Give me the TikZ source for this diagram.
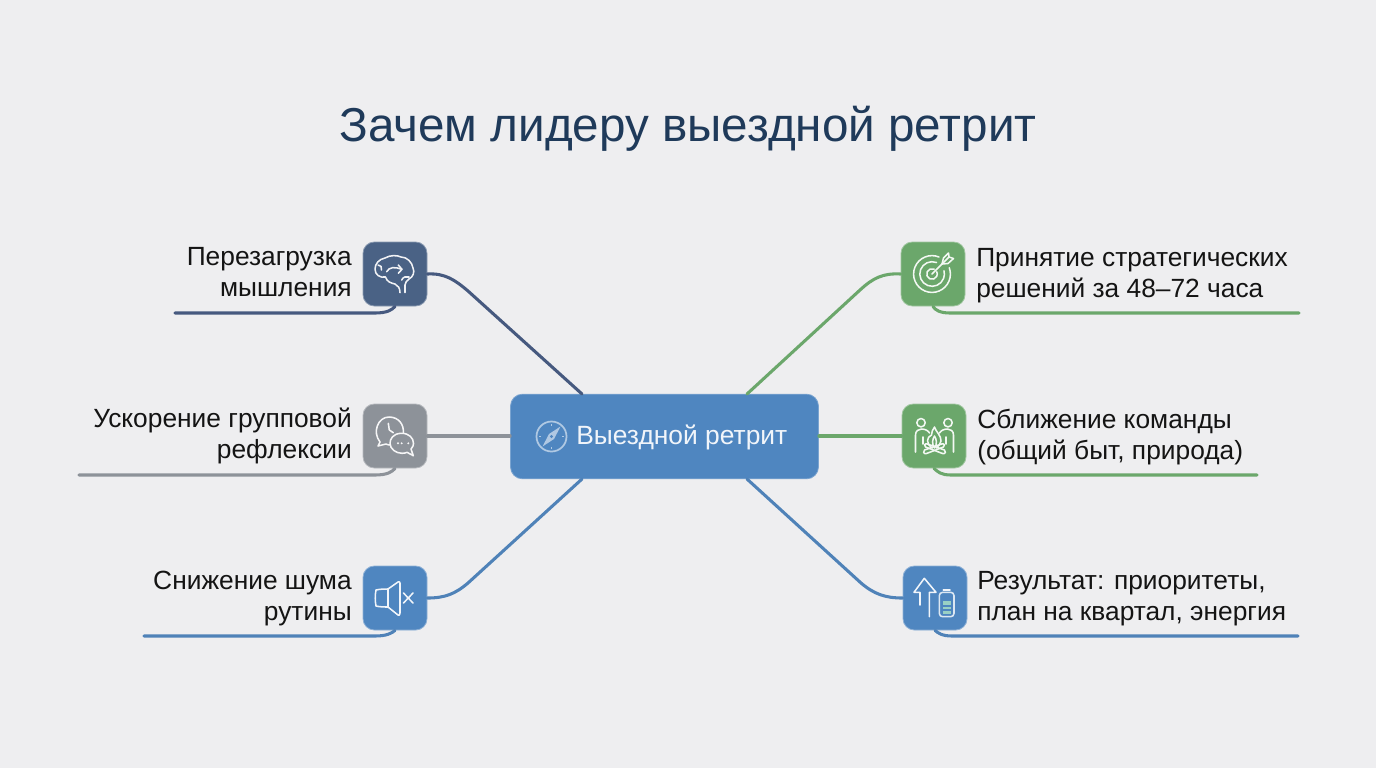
\documentclass[tikz,border=0pt]{standalone}
\usepackage{fontspec}
\setmainfont{Liberation Sans}
\usetikzlibrary{calc}
\definecolor{bgc}{HTML}{EEEEF0}
\definecolor{titlec}{HTML}{1F3A5A}
\definecolor{navyc}{HTML}{4A6285}
\definecolor{navyl}{HTML}{46597F}
\definecolor{greyc}{HTML}{8D9299}
\definecolor{bluec}{HTML}{4F86C0}
\definecolor{bluel}{HTML}{4F82B8}
\definecolor{greenc}{HTML}{6BA76B}
\definecolor{tealc}{HTML}{9AD0C4}
\tikzset{
  iconbox/.style={draw=white!35!#1,line width=.6pt,fill=#1,rounded corners=8.5pt,minimum width=48pt,minimum height=48pt,inner sep=0pt},
  link/.style={color=#1,line width=2.3pt,line cap=round},
  label/.style={font=\fontsize{19.75}{23.25}\selectfont,text=black!92,inner sep=0pt},
  leftlabel/.style={label,align=right,anchor=east},
  rightlabel/.style={label,align=left,anchor=west},
  glyph/.style={draw=white!92!#1,line width=1.15pt,line cap=round,line join=round,fill=none},
}
\begin{document}
\begin{tikzpicture}[x=.75pt,y=-.75pt]
\useasboundingbox (0,0) rectangle (1376,768);
\fill[bgc] (0,0) rectangle (1376,768);
\node[font=\fontsize{35.7}{42}\selectfont,text=titlec,inner sep=0pt] (title) at (688,128.5) {Зачем лидеру выездной ретрит};
% hub
\node[fill=bluec,draw=white!25!bluec,line width=.6pt,rounded corners=9pt,minimum width=231pt,minimum height=63.5pt,inner sep=0pt] (hub) at (664.5,436.5) {};
\node[font=\fontsize{19.8}{23}\selectfont,text=white!92!bluec,inner sep=0pt,anchor=west] (hubtext) at (576,437) {Выездной ретрит};
% icon boxes
\node[iconbox=navyc] (brain) at (395,274) {};
\node[iconbox=greyc] (talk) at (395,436) {};
\node[iconbox=bluec] (mute) at (395,598) {};
\node[iconbox=greenc] (target) at (933,274) {};
\node[iconbox=greenc] (fire) at (934,436) {};
\node[iconbox=bluec] (boost) at (935,598) {};
% labels
\node[leftlabel] (l1) at (352,272.5) {Перезагрузка\\мышления};
\node[leftlabel] (l2) at (352,436) {Ускорение групповой\\рефлексии};
\node[leftlabel] (l3) at (352,598.5) {Снижение шума\\рутины};
\node[rightlabel] (r1) at (976,276) {Принятие стратегических\\решений за 48–72 часа};
\node[rightlabel] (r2) at (977,437) {Сближение команды\\(общий быт, природа)};
\node[rightlabel] (r3) at (977,598.5) {Результат: приоритеты,\\план на квартал, энергия};
% connector ends
\coordinate (hubNW) at (582,394);
\coordinate (hubNE) at (747,394);
\coordinate (hubSW) at (582,479);
\coordinate (hubSE) at (747,479);
\coordinate (u1) at (175,313);
\coordinate (u2) at (79,475);
\coordinate (u3) at (144,636);
\coordinate (u4) at (1299,313);
\coordinate (u5) at (1257,475);
\coordinate (u6) at (1298,636);
% spokes
\draw[link=navyl] (brain.east) .. controls (445,273) and (455,280) .. (468,291) -- (hubNW);
\draw[link=greenc] (target.west) .. controls (883,273) and (873,278) .. (860,290) -- (hubNE);
\draw[link=greyc] (talk.east) -- (hub.west |- talk.east);
\draw[link=greenc] (hub.east |- fire.west) -- (fire.west);
\draw[link=bluel] (mute.east) .. controls (445,598) and (455,594) .. (468,583) -- (hubSW);
\draw[link=bluel] (boost.west) .. controls (885,598) and (874,594) .. (861,583) -- (hubSE);
% underlines
\draw[link=navyl] (u1) -- (375,313) .. controls (387,313) and (392,310) .. (brain.south);
\draw[link=greyc] (u2) -- (375,475) .. controls (387,475) and (392,472) .. (talk.south);
\draw[link=bluel] (u3) -- (375,636) .. controls (387,636) and (392,633) .. (mute.south);
\draw[link=greenc] (u4) -- (950,313) .. controls (940,313) and (935,310) .. (target.south);
\draw[link=greenc] (u5) -- (951,475) .. controls (941,475) and (938,472) .. (fire.south);
\draw[link=bluel] (u6) -- (952,636) .. controls (942,636) and (938,633) .. (boost.south);
% compass icon
\begin{scope}[shift={(551.5,436.5)}]
\draw[draw=white!55!bluec,line width=1.3pt] (0,0) circle (15);
\fill[white!55!bluec] (9,-10) -- (2.5,2.5) -- (-9,10) -- (-2.5,-2.5) -- cycle;
\fill[bluec] (0,0) circle (1.6);
\foreach \a in {0,90,180,270} \draw[draw=white!55!bluec,line width=.8pt] (\a:10.5) -- (\a:12.5);
\end{scope}
% brain icon
\begin{scope}[shift={(395,274)}]
\draw[glyph=navyc] (5,18.7) .. controls (5,14) and (3,11.5) .. (0,10)
  .. controls (-4,9) and (-8,8) .. (-9.5,3)
  .. controls (-15,4) and (-20,1) .. (-20,-5)
  .. controls (-20,-10) and (-16,-15) .. (-10,-16)
  .. controls (-5,-19) and (2,-19) .. (6,-17)
  .. controls (12,-17) and (17,-12) .. (18,-6)
  .. controls (20,-2) and (18,3) .. (14,5)
  .. controls (12,7) and (10,8) .. (10,11)
  -- (10,18.7);
\draw[glyph=navyc] (-8.3,-2.3) .. controls (-6,-7) and (0,-7.5) .. (6.7,-4.7);
\draw[glyph=navyc] (3.3,-9) -- (7,-4.7) -- (3.3,-.7);
\draw[glyph=navyc] (-17,-9) .. controls (-14,-9) and (-13,-7) .. (-13.5,-4);
\draw[glyph=navyc] (6.7,6) .. controls (8,3) and (11,2) .. (14,3);
\end{scope}
% speech icon
\begin{scope}[shift={(395,436)}]
\draw[glyph=greyc] (-15,6) .. controls (-23,-4) and (-17,-19) .. (-6,-19)
  .. controls (4,-19) and (9,-11) .. (8.3,-3.5);
\draw[glyph=greyc] (-15,6) -- (-17,10) -- (-9,8) .. controls (-8,8.5) and (-6.5,9) .. (-5,9);
\draw[glyph=greyc] (-6.7,-12.7) -- (-5.7,-6) -- (-1.7,-3.3);
\draw[glyph=greyc] (6.7,-2.7) .. controls (-2,-2.7) and (-5,3) .. (-5,7.3)
  .. controls (-5,13) and (1,17.3) .. (7,17.3)
  .. controls (9,17.3) and (10.5,17) .. (12,16.3) -- (18.3,19.7) -- (16,13)
  .. controls (18,11) and (18.5,9) .. (18.5,7.3)
  .. controls (18.5,2) and (14,-2.7) .. (6.7,-2.7);
\foreach \x in {3,6.7,13.3} \fill[white!92!greyc] (\x,7.3) circle (1.1);
\end{scope}
% mute icon
\begin{scope}[shift={(395,598)}]
\draw[glyph=bluec] (-19,-8) .. controls (-15,-9) and (-10,-9) .. (-7,-9) -- (3,-16) .. controls (4,-17) and (5,-16) .. (5,-15) -- (5,15) .. controls (5,17) and (4,18) .. (3,17) -- (-7,9) .. controls (-10,9) and (-15,9) .. (-19,8) .. controls (-20,3) and (-20,-3) .. (-19,-8);
\draw[glyph=bluec] (-7,-9) -- (-7,9);
\draw[glyph=bluec] (8.5,-5) -- (18,5);
\draw[glyph=bluec] (18,-5) -- (8.5,5);
\end{scope}
% target icon
\begin{scope}[shift={(932,274)}]
\draw[glyph=greenc] (7,-17) arc[start angle=-67.6,end angle=-380,radius=18.4];
\draw[glyph=greenc] (4.5,-11.5) arc[start angle=-69,end angle=-375,radius=12.3];
\draw[glyph=greenc] (2.2,-4.8) arc[start angle=-65,end angle=-385,radius=5.3];
\draw[glyph=greenc] (0,0) -- (17,-17);
\draw[glyph=greenc] (10,-10) -- (11.5,-16) -- (16.5,-21) -- (17,-17) -- (21.5,-15.5) -- (16,-10.5) -- cycle;
\end{scope}
% people and fire icon
\begin{scope}[shift={(934.5,436)}]
\draw[glyph=greenc] (-13.5,-13.3) circle (4.2);
\draw[glyph=greenc] (13.5,-13.3) circle (4.2);
\draw[glyph=greenc] (-19,16) -- (-19,-1) .. controls (-19,-5) and (-16,-7) .. (-13,-7) .. controls (-9,-7) and (-6,-5) .. (-5,-3);
\draw[glyph=greenc] (19,16) -- (19,-1) .. controls (19,-5) and (16,-7) .. (13,-7) .. controls (9,-7) and (6,-5) .. (5,-3);
\draw[glyph=greenc] (-11.5,1) -- (-11.5,8);
\draw[glyph=greenc] (11.5,1) -- (11.5,8);
\draw[glyph=greenc] (-2,12) .. controls (-9,8) and (-8,1) .. (-3,-1) .. controls (-3,-4) and (-2,-6) .. (0,-9) .. controls (1,-5) and (7,0) .. (6.5,5) .. controls (6,8) and (4,10) .. (2,12);
\draw[glyph=greenc] (0,12) .. controls (-3,8) and (-2,3) .. (0,0) .. controls (2,3) and (3,8) .. (0,12);
\draw[glyph=greenc] (-9,11) -- (8,17.5) .. controls (11,18.5) and (12,15) .. (10,14) -- (-7,8) .. controls (-10,7) and (-11,10) .. (-9,11);
\draw[glyph=greenc] (9,11) -- (-8,17.5) .. controls (-11,18.5) and (-12,15) .. (-10,14) -- (7,8) .. controls (10,7) and (11,10) .. (9,11);
\end{scope}
% arrow and battery icon
\begin{scope}[shift={(935,598)}]
\draw[glyph=bluec] (-15,7) -- (-15,-5.7) -- (-21,-5.7) -- (-10.7,-19.7) -- (1,-5.7) -- (-5.7,-5.7) -- (-5.7,18.7);
\draw[draw=white!80!bluec,line width=1.15pt,rounded corners=2.5pt] (4.3,-5.7) rectangle (19,18.7);
\draw[glyph=bluec] (8.3,-8) -- (15,-8);
\fill[tealc] (7.7,2.7) rectangle (15.7,7);
\fill[tealc] (7.7,8.7) rectangle (15.7,11.3);
\fill[tealc] (7.7,13) rectangle (15.7,15.7);
\end{scope}
\end{tikzpicture}
\end{document}
